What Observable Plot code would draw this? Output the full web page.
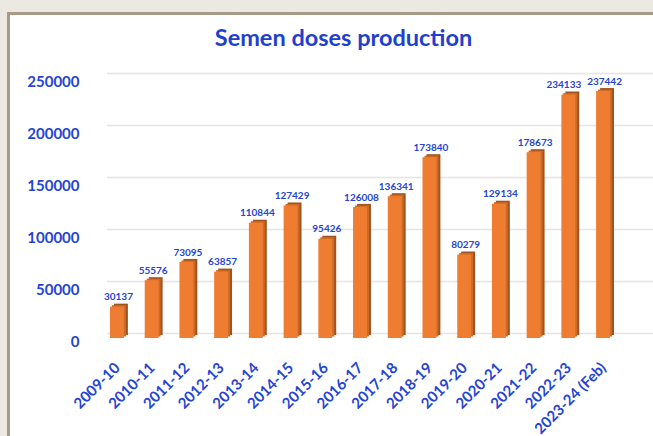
<!DOCTYPE html>
<html>
<head>
<meta charset="utf-8">
<script src="https://cdn.jsdelivr.net/npm/d3@7"></script>
<script src="https://cdn.jsdelivr.net/npm/@observablehq/plot@0.6"></script>
<style>
  html, body { margin: 0; padding: 0; background: #ece8e2; overflow: hidden; width: 653px; height: 436px; }
  #frame { position: absolute; left: 7px; top: 12px; width: 700px; height: 500px;
           border-left: 3px solid #a99a83; border-top: 3px solid #a99a83; background: #fff; }
  #title { position: absolute; left: 0; top: 9px; width: 667px; text-align: center;
           font-family: Lato, "Open Sans", sans-serif; font-weight: bold; font-size: 23.5px;
           line-height: 26px; color: #1f3fcf; }
  #chart { position: absolute; left: 0; top: 35px; }
</style>
</head>
<body>
<div id="frame">
  <div id="title">Semen doses production</div>
  <div id="chart"></div>
</div>
<script>
const years = ["2009-10","2010-11","2011-12","2012-13","2013-14","2014-15","2015-16","2016-17","2017-18","2018-19","2019-20","2020-21","2021-22","2022-23","2023-24 (Feb)"];
const doses = [30137, 55576, 73095, 63857, 110844, 127429, 95426, 126008, 136341, 173840, 80279, 129134, 178673, 234133, 237442];
const yTicks = [0, 50000, 100000, 150000, 200000, 250000];

const data = years.map((year, i) => ({year, value: doses[i]}));
const crowded = ["2022-23"];
const blue = "#2444d4";
const labelStyle = {x: "year", y: "value", text: d => String(d.value), dy: -10,
  fill: blue, fontSize: 10, fontWeight: "bold"};

const chart = Plot.plot({
  width: 643,
  height: 386,
  marginTop: 28,
  marginBottom: 98,
  marginLeft: 97,
  marginRight: 0,
  style: {fontFamily: "Lato, 'Open Sans', sans-serif", background: "transparent", overflow: "visible"},
  x: {type: "band", domain: years, range: [100, 600], paddingInner: 0.6, paddingOuter: 0, align: 0.5, round: false, label: null},
  y: {domain: [0, 250000], label: null},
  marks: [
    Plot.ruleY(yTicks, {stroke: "#e4e4e4", strokeWidth: 1.5, dy: -5}),
    Plot.barY(data, {x: "year", y: "value", fill: "#9f531f", dx: 4, dy: -3}),
    Plot.barY(data, {x: "year", y: "value", fill: "#cf6a26", dx: 2, dy: -1.5}),
    Plot.barY(data, {x: "year", y: "value", fill: "#ee7d31"}),
    Plot.text(data.filter(d => !crowded.includes(d.year)), {...labelStyle, dx: 1}),
    Plot.text(data.filter(d => crowded.includes(d.year)), {...labelStyle, dx: -5}),
    Plot.axisY({ticks: yTicks, tickSize: 0, tickPadding: 28, dy: 4, tickFormat: d => String(d),
      fontSize: 15, fontWeight: "bold", fill: blue, label: null}),
    Plot.axisX({tickRotate: -45, tickSize: 0, tickPadding: 27, fontSize: 15, fontWeight: "bold",
      fill: blue, label: null})
  ]
});
document.getElementById("chart").appendChild(chart);
</script>
</body>
</html>
